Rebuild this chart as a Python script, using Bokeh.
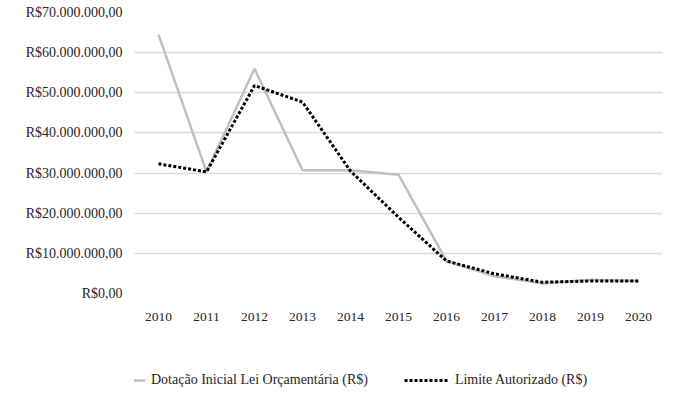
from bokeh.plotting import figure
from bokeh.models import Legend, LegendItem, FixedTicker, Range1d
from bokeh.layouts import column
from bokeh.embed import file_html
from bokeh.resources import INLINE

years = [2010, 2011, 2012, 2013, 2014, 2015, 2016, 2017, 2018, 2019, 2020]
dotacao = [64.5e6, 30.3e6, 56.0e6, 30.7e6, 30.7e6, 29.6e6, 8.1e6, 4.3e6, 2.5e6, 3.4e6, 3.1e6]
limite = [32.3e6, 30.3e6, 51.8e6, 47.7e6, 30.5e6, 19.0e6, 8.1e6, 4.9e6, 2.8e6, 3.1e6, 3.1e6]
yticks = [0, 10e6, 20e6, 30e6, 40e6, 50e6, 60e6, 70e6]
ytick_labels = ["R$0,00", "R$10.000.000,00", "R$20.000.000,00", "R$30.000.000,00",
                "R$40.000.000,00", "R$50.000.000,00", "R$60.000.000,00", "R$70.000.000,00"]
names = ["Dotação Inicial Lei Orçamentária (R$)", "Limite Autorizado (R$)"]

FONT = "Liberation Serif"
TXT = "#262626"
GRAY = dict(line_color="#bfbfbf", line_width=2.5)
DOTS = dict(line_color="#000000", line_width=3, line_dash="3 2")

p = figure(width=664, height=335, output_backend="svg", toolbar_location=None,
           x_range=Range1d(2009.5, 2020.5), y_range=Range1d(0, 70e6),
           min_border_left=134, min_border_right=2, min_border_top=12, min_border_bottom=42)
p.outline_line_color = None

p.line(years, dotacao, **GRAY)
p.line(years, limite, **DOTS)

p.xaxis.ticker = FixedTicker(ticks=years)
p.yaxis.ticker = FixedTicker(ticks=yticks)
p.yaxis.major_label_overrides = {t: l for t, l in zip(yticks, ytick_labels)}
for ax in (p.xaxis[0], p.yaxis[0]):
    ax.axis_line_color = None
    ax.major_tick_line_color = None
    ax.minor_tick_line_color = None
    ax.major_tick_out = 0
    ax.major_tick_in = 0
    ax.major_label_text_font = FONT
    ax.major_label_text_color = TXT
p.yaxis.major_label_text_font_size = "14px"
p.xaxis.major_label_text_font_size = "13.5px"
p.yaxis.major_label_standoff = 12
p.xaxis.major_label_standoff = 19
p.xgrid.grid_line_color = None
p.ygrid.grid_line_color = "#d9d9d9"
p.ygrid.grid_line_width = 1.5

# legend panel below the chart (series drawn out of view, only their legend shows)
lg = figure(width=664, height=55, output_backend="svg", toolbar_location=None,
            x_range=Range1d(0, 1), y_range=Range1d(0, 1),
            min_border_left=0, min_border_right=0, min_border_top=0, min_border_bottom=0)
lg.outline_line_color = None
lg.axis.visible = False
lg.grid.visible = False
k1 = lg.line(years, dotacao, **GRAY)
k2 = lg.line(years, limite, **DOTS)
legend = Legend(items=[LegendItem(label=names[0], renderers=[k1]),
                       LegendItem(label=names[1], renderers=[k2])],
                orientation="horizontal", location=(-34, 0),
                label_text_font=FONT, label_text_font_size="14px",
                label_text_color=TXT, glyph_width=45, label_standoff=6,
                spacing=36, border_line_color=None, background_fill_alpha=0,
                margin=0, padding=4)
lg.add_layout(legend, "center")

layout = column(p, lg, spacing=0)
open("out.html", "w").write(file_html(layout, INLINE))
